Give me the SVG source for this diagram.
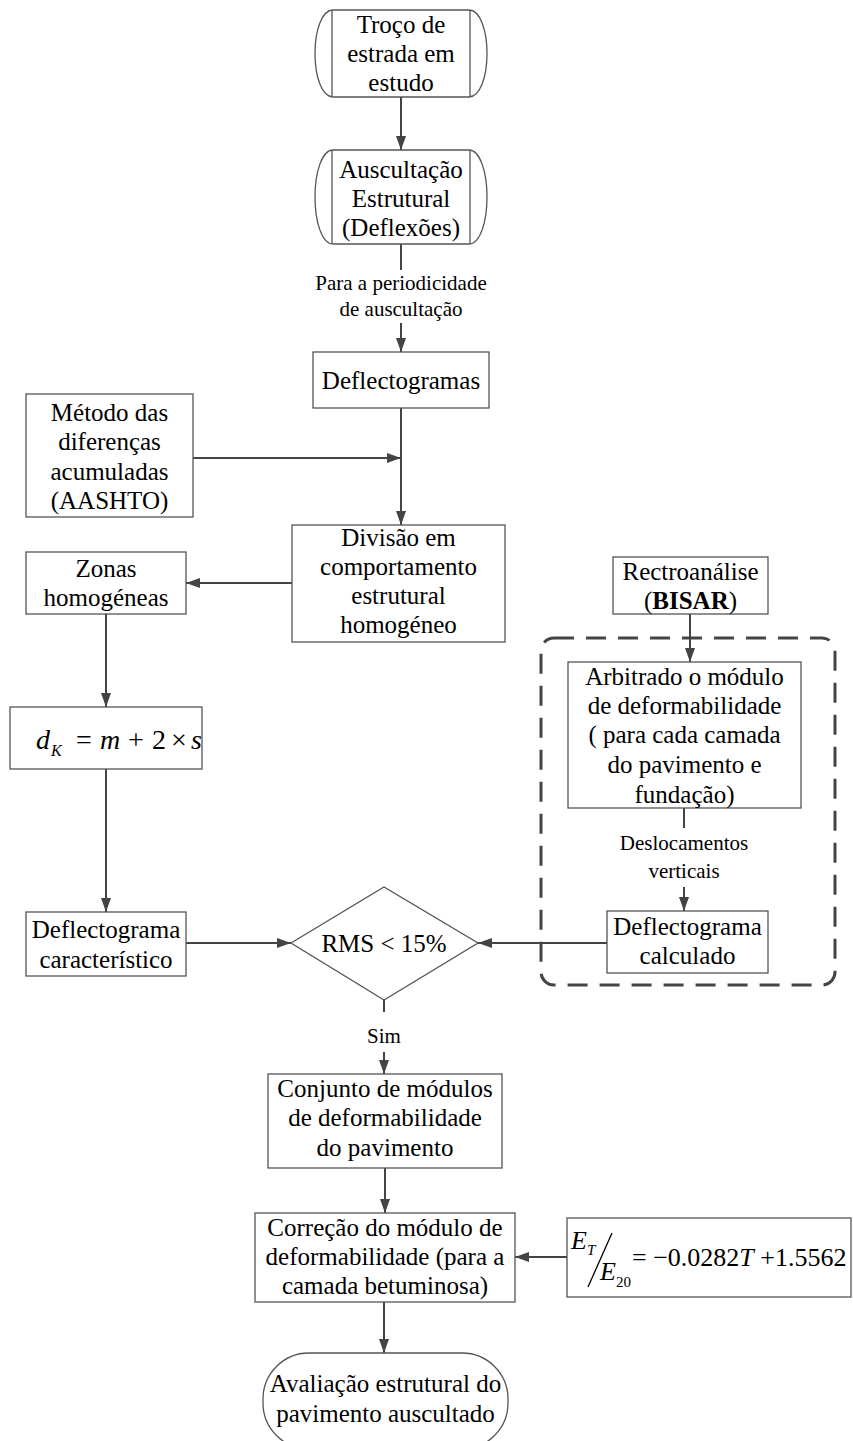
<svg xmlns="http://www.w3.org/2000/svg" width="853" height="1441" viewBox="0 0 853 1441" font-family="Liberation Serif, serif">
  <defs>
    <marker id="arrow" markerUnits="userSpaceOnUse" markerWidth="15" markerHeight="12" refX="14" refY="6" orient="auto">
      <path d="M0,1 L14,6 L0,11 Z" fill="#444"/>
    </marker>
    <style>
      .box { fill: #fff; stroke: #555; stroke-width: 1.3; }
      .t { font-size: 25px; fill: #000; text-anchor: middle; }
      .lbl { font-size: 21px; fill: #000; text-anchor: middle; }
      .m { fill: #000; }
      .i { font-style: italic; }
      .edge { fill: none; stroke: #444; stroke-width: 2; }
      .arr { marker-end: url(#arrow); }
      .dash { fill: none; stroke: #444; stroke-width: 3; stroke-dasharray: 20 12; }
    </style>
  </defs>
  <rect width="853" height="1441" fill="#fff"/>

  <!-- connectors -->
  <g id="connectors">
    <line class="edge arr" x1="401" y1="97" x2="401" y2="150"/>
    <line class="edge" x1="401" y1="244" x2="401" y2="270"/>
    <line class="edge arr" x1="401" y1="323" x2="401" y2="352"/>
    <line class="edge arr" x1="401" y1="408" x2="401" y2="525"/>
    <line class="edge arr" x1="193" y1="458" x2="401" y2="458"/>
    <line class="edge arr" x1="292" y1="583" x2="186" y2="583"/>
    <line class="edge arr" x1="106" y1="614" x2="106" y2="707"/>
    <line class="edge arr" x1="106" y1="769" x2="106" y2="912"/>
    <line class="edge arr" x1="186" y1="943" x2="291" y2="943"/>
    <line class="edge arr" x1="607" y1="943" x2="478" y2="943"/>
    <line class="edge arr" x1="690" y1="614" x2="690" y2="662"/>
    <line class="edge" x1="684" y1="808" x2="684" y2="828"/>
    <line class="edge arr" x1="684" y1="887" x2="684" y2="911"/>
    <line class="edge" x1="384" y1="1000" x2="384" y2="1012"/>
    <line class="edge arr" x1="384" y1="1052" x2="384" y2="1074"/>
    <line class="edge arr" x1="385" y1="1168" x2="385" y2="1213"/>
    <line class="edge arr" x1="567" y1="1257" x2="515" y2="1257"/>
    <line class="edge arr" x1="384" y1="1302" x2="384" y2="1353"/>
  </g>

  <!-- edge labels -->
  <g id="labels">
    <text class="lbl" x="401" y="290">Para a periodicidade</text>
    <text class="lbl" x="401" y="316">de auscultação</text>
    <text class="lbl" x="684" y="850">Deslocamentos</text>
    <text class="lbl" x="684" y="878">verticais</text>
    <text class="lbl" x="384" y="1043">Sim</text>
  </g>

  <!-- backcalculation group frame -->
  <rect id="bisar-group" class="dash" x="541" y="638" width="294" height="347" rx="13"/>

  <g id="troco">
    <path class="box" d="M333,10 L469,10 C480,10 487,30 487,53.5 C487,77 480,97 469,97 L333,97 C322,97 315,77 315,53.5 C315,30 322,10 333,10 Z"/>
    <line class="box" x1="332" y1="10" x2="332" y2="97"/>
    <line class="box" x1="470" y1="10" x2="470" y2="97"/>
    <text class="t" x="401" y="33">Troço de</text>
    <text class="t" x="401" y="62">estrada em</text>
    <text class="t" x="401" y="91">estudo</text>
  </g>

  <g id="auscultacao">
    <path class="box" d="M333,150 L469,150 C480,150 487,172 487,197 C487,222 480,244 469,244 L333,244 C322,244 315,222 315,197 C315,172 322,150 333,150 Z"/>
    <line class="box" x1="332" y1="150" x2="332" y2="244"/>
    <line class="box" x1="470" y1="150" x2="470" y2="244"/>
    <text class="t" x="401" y="178">Auscultação</text>
    <text class="t" x="401" y="207">Estrutural</text>
    <text class="t" x="401" y="236">(Deflexões)</text>
  </g>

  <g id="deflectogramas">
    <rect class="box" x="313" y="352" width="176" height="56"/>
    <text class="t" x="401" y="389">Deflectogramas</text>
  </g>

  <g id="metodo">
    <rect class="box" x="26" y="394" width="167" height="123"/>
    <text class="t" x="109.5" y="421">Método das</text>
    <text class="t" x="109.5" y="450">diferenças</text>
    <text class="t" x="109.5" y="480">acumuladas</text>
    <text class="t" x="109.5" y="509">(AASHTO)</text>
  </g>

  <g id="divisao">
    <rect class="box" x="292" y="525" width="213" height="117"/>
    <text class="t" x="398.5" y="546">Divisão em</text>
    <text class="t" x="398.5" y="575">comportamento</text>
    <text class="t" x="398.5" y="604">estrutural</text>
    <text class="t" x="398.5" y="633">homogéneo</text>
  </g>

  <g id="zonas">
    <rect class="box" x="26" y="552" width="160" height="62"/>
    <text class="t" x="106" y="577">Zonas</text>
    <text class="t" x="106" y="606">homogéneas</text>
  </g>

  <g id="rectroanalise">
    <rect class="box" x="613" y="557" width="155" height="57"/>
    <text class="t" x="690.5" y="580">Rectroanálise</text>
    <text class="t" x="690.5" y="609">(<tspan font-weight="bold">BISAR</tspan>)</text>
  </g>

  <g id="arbitrado">
    <rect class="box" x="568" y="662" width="233" height="146"/>
    <text class="t" x="684.5" y="685">Arbitrado o módulo</text>
    <text class="t" x="684.5" y="714">de deformabilidade</text>
    <text class="t" x="684.5" y="743">( para cada camada</text>
    <text class="t" x="684.5" y="773">do pavimento e</text>
    <text class="t" x="684.5" y="803">fundação)</text>
  </g>

  <g id="dk">
    <rect class="box" x="10" y="707" width="192" height="62"/>
    <text class="m i" x="36" y="749" font-size="28">d</text>
    <text class="m i" x="51" y="756" font-size="16">K</text>
    <text class="m" x="76" y="749" font-size="28">=</text>
    <text class="m i" x="100" y="749" font-size="28">m</text>
    <text class="m" x="128" y="749" font-size="28">+</text>
    <text class="m" x="152" y="749" font-size="28">2</text>
    <text class="m" x="171" y="749" font-size="28">×</text>
    <text class="m i" x="191" y="749" font-size="28">s</text>
  </g>

  <g id="caracteristico">
    <rect class="box" x="26" y="912" width="160" height="64"/>
    <text class="t" x="106" y="938">Deflectograma</text>
    <text class="t" x="106" y="968">característico</text>
  </g>

  <g id="rms">
    <polygon class="box" points="291,943 384,887 478,943 384,1000"/>
    <text class="t" x="384" y="952">RMS &lt; 15%</text>
  </g>

  <g id="calculado">
    <rect class="box" x="607" y="911" width="161" height="62"/>
    <text class="t" x="687.5" y="935">Deflectograma</text>
    <text class="t" x="687.5" y="964">calculado</text>
  </g>

  <g id="conjunto">
    <rect class="box" x="268" y="1074" width="234" height="94"/>
    <text class="t" x="385" y="1097">Conjunto de módulos</text>
    <text class="t" x="385" y="1126">de deformabilidade</text>
    <text class="t" x="385" y="1156">do pavimento</text>
  </g>

  <g id="correcao">
    <rect class="box" x="255" y="1213" width="260" height="89"/>
    <text class="t" x="385" y="1236">Correção do módulo de</text>
    <text class="t" x="385" y="1265">deformabilidade (para a</text>
    <text class="t" x="385" y="1294">camada betuminosa)</text>
  </g>

  <g id="equacao">
    <rect class="box" x="567" y="1218" width="284" height="79"/>
    <text class="m i" x="571" y="1249" font-size="26">E</text>
    <text class="m i" x="587" y="1255" font-size="15">T</text>
    <line x1="588" y1="1287" x2="612" y2="1233" stroke="#000" stroke-width="1.3"/>
    <text class="m i" x="600" y="1280" font-size="26">E</text>
    <text class="m" x="616" y="1287" font-size="15">20</text>
    <text class="m" x="632" y="1266" font-size="26">= −0.0282<tspan class="i">T</tspan> +1.5562</text>
  </g>

  <g id="avaliacao">
    <rect class="box" x="263" y="1353" width="245" height="96" rx="46"/>
    <text class="t" x="385.5" y="1392">Avaliação estrutural do</text>
    <text class="t" x="385.5" y="1422">pavimento auscultado</text>
  </g>
</svg>
